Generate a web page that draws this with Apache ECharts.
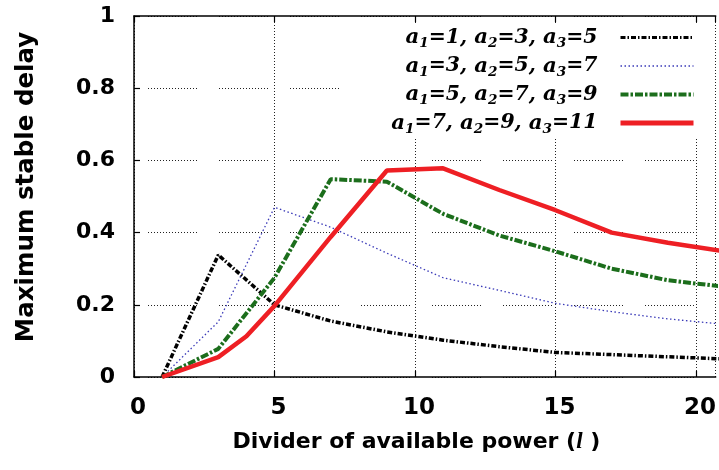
<!DOCTYPE html>
<html>
<head>
<meta charset="utf-8">
<script src="https://cdn.jsdelivr.net/npm/echarts@6/dist/echarts.min.js"></script>
<style>
  html, body { margin: 0; padding: 0; background: #fff; }
  #chart { width: 719px; height: 470px; }
</style>
</head>
<body>
<div id="chart"></div>
<script>
// Divider of available power (l) sampled at odd values
const xValues = [1, 3, 5, 7, 9, 11, 13, 15, 17, 19, 21];
// the a1=7 curve has one extra sample at l = 4
const xValuesRed = [1, 3, 4, 5, 7, 9, 11, 13, 15, 17, 19, 21];

// Maximum stable delay for each parameter set
const delaySet1 = [0, 0.338, 0.200, 0.155, 0.125, 0.102, 0.084, 0.068, 0.062, 0.056, 0.050];
const delaySet2 = [0, 0.153, 0.470, 0.415, 0.343, 0.275, 0.240, 0.204, 0.181, 0.161, 0.146];
const delaySet3 = [0, 0.078, 0.275, 0.548, 0.541, 0.452, 0.392, 0.348, 0.300, 0.268, 0.250];
const delaySet4 = [0, 0.055, 0.113, 0.197, 0.388, 0.572, 0.578, 0.518, 0.462, 0.400, 0.372, 0.348];

const seriesNames = [
  'a1=1, a2=3, a3=5',
  'a1=3, a2=5, a3=7',
  'a1=5, a2=7, a3=9',
  'a1=7, a2=9, a3=11'
];

const xTickStep = 5;
const yTickStep = 0.2;

function pairs(xs, ys) {
  return xs.map((x, i) => [x, ys[i]]);
}

// turn "a1=..." into rich text with subscripted indices
function richName(name) {
  return name.split(/(a\d)/).filter(Boolean).map(function (p) {
    return /^a\d$/.test(p) ? '{a|a}{s|' + p[1] + '}' : '{t|' + p + '}';
  }).join('');
}

// dotted horizontal grid with periodic breaks
const hDash = [];
for (let i = 0; i < 16; i++) { hDash.push(1, 2); }
hDash.push(1, 22);

const serifBI = { fontFamily: 'DejaVu Serif', fontStyle: 'italic', fontWeight: 'bold', color: '#000' };
const sansB = { fontFamily: 'DejaVu Sans', fontWeight: 'bold', color: '#000' };

const lineStyles = [
  { color: '#000', width: 3.5, type: [5, 2, 1.5, 2] },
  { color: '#3a3ab8', width: 1.3, type: [1.5, 2.5] },
  { color: '#1c6e1c', width: 4, type: [8, 2, 2.5, 2] },
  { color: '#ee1f24', width: 4.5, type: 'solid' }
];
const legendWidths = [3, 1.3, 4, 5];

const chart = echarts.init(document.getElementById('chart'), null, { renderer: 'canvas' });

chart.setOption({
  backgroundColor: '#fff',
  animation: false,
  grid: { left: 134, top: 16, right: 0, height: 361 },
  legend: {
    orient: 'vertical',
    align: 'right',
    right: 13,
    top: 23,
    padding: [4, 10, 2, 40],
    backgroundColor: '#fff',
    itemWidth: 73,
    itemHeight: 14,
    itemGap: 5,
    selectedMode: false,
    itemStyle: { opacity: 0 },
    data: seriesNames.map((n, i) => ({ name: n, lineStyle: { width: legendWidths[i] } })),
    formatter: richName,
    textStyle: {
      padding: [0, 18, 0, 0],
      rich: {
        a: Object.assign({ fontSize: 21.3, lineHeight: 26 }, serifBI),
        t: Object.assign({ fontSize: 20.4, lineHeight: 26 }, serifBI),
        s: Object.assign({ fontSize: 13.6, lineHeight: 14, verticalAlign: 'bottom' }, serifBI)
      }
    }
  },
  xAxis: [{
    type: 'value',
    position: 'bottom',
    min: 0,
    max: 20.7,
    interval: xTickStep,
    name: 'Divider of available power ({i|l} )',
    nameLocation: 'middle',
    nameGap: 54,
    nameTextStyle: Object.assign({
      fontSize: 22,
      padding: [0, 17, 0, 0],
      rich: { i: { fontFamily: 'Liberation Serif', fontStyle: 'italic', fontSize: 23, color: '#000' } }
    }, sansB),
    axisLine: { show: true, lineStyle: { color: '#000', width: 1.5 } },
    axisTick: { show: true, inside: true, length: 6, lineStyle: { color: '#000', width: 1.2 } },
    axisLabel: Object.assign({ fontSize: 23, margin: 20, padding: [0, 0, 0, 8], showMaxLabel: false,
      formatter: function (v) { return v % xTickStep === 0 ? String(v) : ''; } }, sansB),
    splitLine: { show: true, lineStyle: { color: '#222', width: 1, type: [1, 2] } }
  }, {
    type: 'value',
    position: 'top',
    min: 0,
    max: 20.7,
    interval: xTickStep,
    axisLine: { show: true, lineStyle: { color: '#000', width: 1.5 } },
    axisTick: { show: true, inside: true, length: 6, lineStyle: { color: '#000', width: 1.2 } },
    axisLabel: { show: false },
    splitLine: { show: false }
  }],
  yAxis: {
    type: 'value',
    min: 0,
    max: 1,
    interval: yTickStep,
    name: 'Maximum stable delay',
    nameLocation: 'middle',
    nameGap: 95,
    nameTextStyle: Object.assign({ fontSize: 24.5, padding: [0, 0, 0, 19] }, sansB),
    axisLine: { show: true, lineStyle: { color: '#000', width: 1.5 } },
    axisTick: { show: true, inside: true, length: 6, lineStyle: { color: '#000', width: 1.2 } },
    axisLabel: Object.assign({ fontSize: 22, margin: 19 }, sansB),
    splitLine: { show: true, lineStyle: { color: '#222', width: 1, type: hDash, dashOffset: 57 } }
  },
  series: [
    { data: pairs(xValues, delaySet1) },
    { data: pairs(xValues, delaySet2) },
    { data: pairs(xValues, delaySet3) },
    { data: pairs(xValuesRed, delaySet4) }
  ].map((s, i) => Object.assign({
    name: seriesNames[i],
    type: 'line',
    symbol: 'none',
    lineStyle: lineStyles[i],
    itemStyle: { color: lineStyles[i].color },
    z: 3
  }, s))
});
</script>
</body>
</html>
